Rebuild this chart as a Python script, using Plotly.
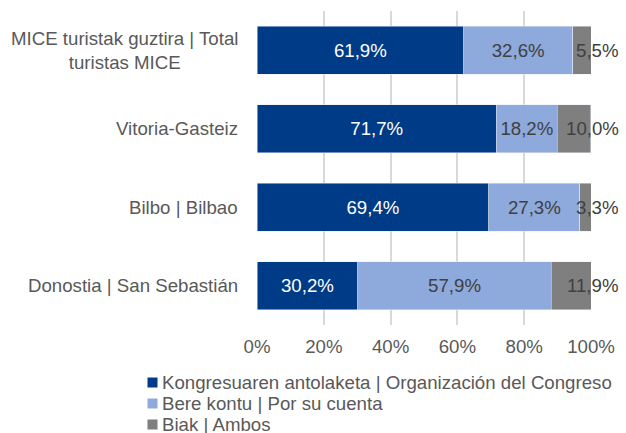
import plotly.graph_objects as go

# Destinations (top to bottom) and share of MICE tourists by who organised the trip
categories = [
    "MICE turistak guztira | Total<br>turistas MICE",
    "Vitoria-Gasteiz",
    "Bilbo | Bilbao",
    "Donostia | San Sebastián",
]
congreso = [61.9, 71.7, 69.4, 30.2]
por_su_cuenta = [32.6, 18.2, 27.3, 57.9]
ambos = [5.5, 10.0, 3.3, 11.9]

series_names = [
    "Kongresuaren antolaketa | Organización del Congreso",
    "Bere kontu | Por su cuenta",
    "Biak | Ambos",
]
series_colors = ["#003B87", "#8EA9DB", "#7F7F7F"]
x_ticks = [0, 20, 40, 60, 80, 100]
x_tick_labels = ["0%", "20%", "40%", "60%", "80%", "100%"]

FONT = "Liberation Sans, Arial, sans-serif"
FS = 18.67
AXIS_GREY = "#595959"
LABEL_DARK = "#404040"


def pct(v):
    return f"{v:.1f}%".replace(".", ",")


ycat = list(range(len(categories)))

fig = go.Figure()
fig.add_trace(go.Bar(
    name=series_names[0], y=ycat, x=congreso, orientation="h",
    marker_color=series_colors[0],
    text=[pct(v) for v in congreso], textposition="inside",
    insidetextanchor="middle", constraintext="none",
    textfont=dict(color="white", size=FS, family=FONT),
))
fig.add_trace(go.Bar(
    name=series_names[1], y=ycat, x=por_su_cuenta, orientation="h",
    marker_color=series_colors[1],
    text=[pct(v) for v in por_su_cuenta], textposition="inside",
    insidetextanchor="middle", constraintext="none",
    textfont=dict(color=LABEL_DARK, size=FS, family=FONT),
))
fig.add_trace(go.Bar(
    name=series_names[2], y=ycat, x=ambos, orientation="h",
    marker_color=series_colors[2],
))

annotations = []
# "Ambos" labels sit at the right end of each bar, spilling past 100%
for i, (a, b, c) in enumerate(zip(congreso, por_su_cuenta, ambos)):
    annotations.append(dict(
        x=a + b + c, y=i, xref="x", yref="y", text=pct(c),
        showarrow=False, xanchor="right", xshift=30,
        font=dict(color=LABEL_DARK, size=FS, family=FONT),
    ))
# Category labels, centred line by line
for i, name in enumerate(categories):
    annotations.append(dict(
        x=0, y=i, xref="paper", yref="y", text=name, showarrow=False,
        xanchor="right", xshift=-17, align="center",
        font=dict(color=AXIS_GREY, size=FS, family=FONT),
    ))
# Legend below the axis: small colour key square followed by the series name
for k, (name, color) in enumerate(zip(series_names, series_colors)):
    dy = -57 - 21 * k
    annotations.append(dict(
        x=0, y=0, xref="paper", yref="paper", text=" ", showarrow=False,
        xanchor="center", yanchor="middle", xshift=-104.5, yshift=dy,
        width=9, height=9, bgcolor=color, borderpad=0,
        font=dict(size=6),
    ))
    annotations.append(dict(
        x=0, y=0, xref="paper", yref="paper", text=name, showarrow=False,
        xanchor="left", yanchor="middle", xshift=-97, yshift=dy,
        font=dict(color=AXIS_GREY, size=FS, family=FONT),
    ))

fig.update_layout(
    barmode="stack",
    bargap=0.39,
    width=626, height=433,
    margin=dict(l=257, r=35, t=11, b=108),
    plot_bgcolor="white", paper_bgcolor="white",
    font=dict(family=FONT, size=FS, color=AXIS_GREY),
    showlegend=False,
    annotations=annotations,
)
fig.update_xaxes(
    range=[0, 100], tickvals=x_ticks, ticktext=x_tick_labels,
    showgrid=True, gridcolor="#D9D9D9", gridwidth=1.5,
    zeroline=False, showline=False, ticks="", ticklabelstandoff=8,
    tickfont=dict(size=FS, color=AXIS_GREY, family=FONT),
)
fig.update_yaxes(
    tickvals=ycat, showticklabels=False, range=[3.5, -0.5],
    showgrid=False, zeroline=False, showline=False, ticks="",
)

fig.write_html("out.html")
